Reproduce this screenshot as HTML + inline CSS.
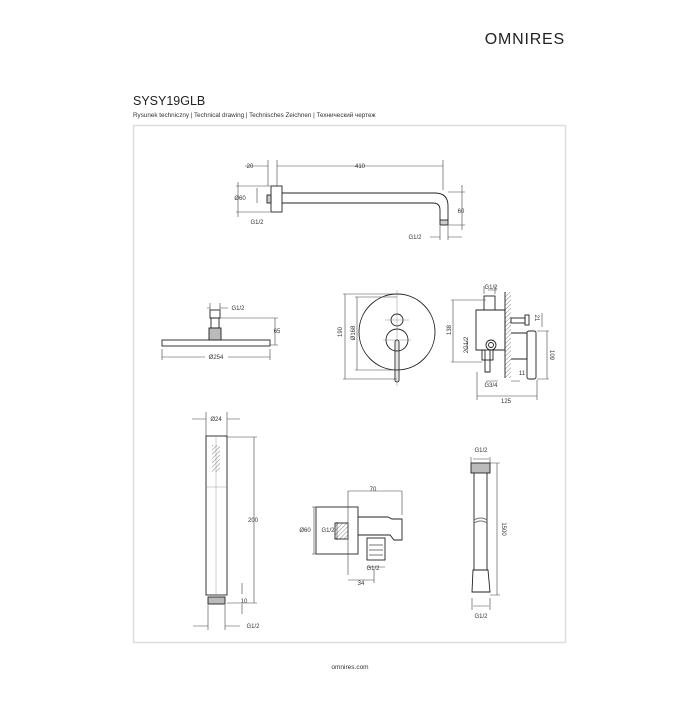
<!DOCTYPE html>
<html><head><meta charset="utf-8"><style>
html,body{margin:0;padding:0;background:#fff;}
body{width:700px;height:700px;position:relative;overflow:hidden;font-family:"Liberation Sans",sans-serif;}
</style></head><body>
<svg width="700" height="700" viewBox="0 0 700 700" xmlns="http://www.w3.org/2000/svg" font-family="Liberation Sans, sans-serif">
<defs>
<pattern id="h" width="3" height="3" patternUnits="userSpaceOnUse" patternTransform="rotate(45)"><line x1="0" y1="0" x2="0" y2="3" stroke="#666" stroke-width="0.8"/></pattern>
</defs>
<text x="565" y="44" font-size="16" text-anchor="end" letter-spacing="0.8" fill="#222">OMNIRES</text>
<text x="133" y="105" font-size="12.5" fill="#222">SYSY19GLB</text>
<text x="133" y="117" font-size="6.3" fill="#333">Rysunek techniczny | Technical drawing | Technisches Zeichnen | Технический чертеж</text>
<rect x="133.5" y="125.5" width="432" height="517" fill="none" stroke="#ddd" stroke-width="1.5"/>
<text x="350" y="669" font-size="6.5" text-anchor="middle" fill="#333">omnires.com</text>

<g stroke="#222" stroke-width="0.9" fill="none">
<!-- top arm -->
<rect x="271" y="186" width="11" height="26"/>
<rect x="267" y="195" width="4" height="8" fill="#ccc"/>
<path d="M282 193 H435 Q448 193 448 206 V220 M282 203 H433 Q440 203 440 210 V220"/>
<rect x="440" y="220" width="8" height="5" fill="#ccc"/>
<path d="M268 160V186 M277 160V186 M443 160V190 M245 166H268 M277 166H443 M238 182V217 M236 186H270 M236 212H270 M257 188V203 M462 185V230 M448 192H465 M448 225H465 M430 237H440 M448 237H462 M440 226V240 M448 226V240" stroke="#444" stroke-width="0.6"/>
<!-- head shower -->
<rect x="162" y="340" width="108" height="6"/>
<rect x="210" y="310" width="10" height="8"/>
<rect x="211" y="318" width="8" height="10"/>
<rect x="209" y="328" width="12" height="12" fill="#bbb"/>
<path d="M207 308H210 M220 308H228 M210 303V312 M220 303V312 M220 318H278 M275 318V345 M270 345H278 M162 349V360 M270 349V360 M162 357H205 M228 357H270" stroke="#444" stroke-width="0.6"/>
<!-- mixer front -->
<circle cx="397" cy="332" r="38"/>
<circle cx="397" cy="320" r="6"/>
<circle cx="397" cy="340" r="11"/>
<rect x="395" y="340" width="4" height="42" rx="2"/>
<path d="M397 290V386 M385 320H409 M383 340H411" stroke="#777" stroke-width="0.4"/>
<path d="M345 294V379 M343 294H397 M343 379H397 M357 297V370 M355 297H397 M355 370H397" stroke="#444" stroke-width="0.6"/>
<!-- mixer side -->
<rect x="505" y="292" width="6" height="86" fill="url(#h)" stroke="none"/>
<path d="M505 292V378"/>
<path d="M476 310 H505 V350 H490 V372 H485 V350 H476 Z"/>
<rect x="484" y="296" width="11" height="14"/>
<rect x="482" y="350" width="11" height="10"/>
<circle cx="491" cy="345" r="5"/>
<circle cx="491" cy="345" r="2.5"/>
<rect x="511" y="318" width="14" height="5"/>
<rect x="525" y="315" width="4" height="10"/>
<path d="M511 333 H527 V359 H511"/>
<rect x="527" y="331" width="9" height="48" rx="2"/>
<path d="M453 300V362 M451 300H486 M451 362H482 M488 290H497 M484 286V294 M495 286V294 M542 313V327 M547 331V379 M537 331H549 M537 379H549 M477 372V400 M537 380V400 M477 396H537 M486 381H498 M511 381H520 M467 340V350" stroke="#444" stroke-width="0.6"/>
<!-- hand shower -->
<rect x="206" y="436" width="21" height="159"/>
<path d="M206 487H227 M216 436V595" stroke="#888" stroke-width="0.4"/>
<rect x="212" y="445" width="8" height="27" fill="url(#h)" stroke="none"/>
<rect x="208" y="597" width="17" height="7" fill="#bbb"/>
<path d="M192 419H206 M227 419H240 M206 412V436 M227 412V436 M227 437H257 M254 437V603 M227 603H257 M242 583V594 M242 604V614 M193 626H208 M225 626H240 M208 605V630 M225 605V630" stroke="#444" stroke-width="0.6"/>
<!-- wall outlet -->
<rect x="316" y="507" width="42" height="47"/>
<rect x="335" y="523" width="13" height="16" fill="url(#h)"/>
<path d="M358 517 H388 L392 519 H402 V540 H394 L390 535 H358"/>
<rect x="367" y="538" width="18" height="22"/>
<path d="M369 545H383 M369 550H383 M369 555H383" stroke="#777"/>
<path d="M348 491V575 M402 491V515 M348 491H402 M314 507V554 M312 507H320 M312 554H320 M337 522V540 M348 580H374 M374 570V583 M367 567H385" stroke="#444" stroke-width="0.6"/>
<!-- hose -->
<rect x="471" y="463" width="19" height="10" fill="#bbb"/>
<path d="M474 473V570 M487 473V570"/>
<path d="M474 520 Q481 516 487 520 M474 523 Q481 519 487 523" stroke="#777"/>
<path d="M473 570 H488 L490 592 H472 Z"/>
<path d="M471 457V465 M490 457V465 M473 459H489 M497 463V595 M490 463H500 M490 595H500 M472 598V610 M490 598V610 M473 606H489" stroke="#444" stroke-width="0.6"/>
</g>
<g font-size="6" fill="#333">
<text x="250" y="168" text-anchor="middle">20</text>
<text x="360" y="168" text-anchor="middle">410</text>
<text x="240" y="200" text-anchor="middle">Ø60</text>
<text x="257" y="224" text-anchor="middle">G1/2</text>
<text x="461" y="213" text-anchor="middle">60</text>
<text x="415" y="239" text-anchor="middle">G1/2</text>
<text x="238" y="310" text-anchor="middle">G1/2</text>
<text x="277" y="333" text-anchor="middle">65</text>
<text x="216" y="359" text-anchor="middle">Ø254</text>
<text transform="translate(342,332) rotate(-90)" text-anchor="middle">190</text>
<text transform="translate(355,333) rotate(-90)" text-anchor="middle">Ø168</text>
<text x="491" y="289" text-anchor="middle">G1/2</text>
<text transform="translate(451,330) rotate(-90)" text-anchor="middle">138</text>
<text transform="translate(535,318) rotate(90)" text-anchor="middle">21</text>
<text transform="translate(550,355) rotate(90)" text-anchor="middle">109</text>
<text transform="translate(468,345) rotate(-90)" text-anchor="middle">2G1/2</text>
<text x="491" y="387" text-anchor="middle">G3/4</text>
<text x="522" y="375" text-anchor="middle">11</text>
<text x="506" y="403" text-anchor="middle">125</text>
<text x="216" y="421" text-anchor="middle">Ø24</text>
<text x="253" y="522" text-anchor="middle">200</text>
<text x="244" y="603" text-anchor="middle">10</text>
<text x="253" y="628" text-anchor="middle">G1/2</text>
<text x="373" y="491" text-anchor="middle">70</text>
<text x="305" y="532" text-anchor="middle">Ø60</text>
<text x="328" y="532" text-anchor="middle">G1/2</text>
<text x="373" y="570" text-anchor="middle">G1/2</text>
<text x="361" y="585" text-anchor="middle">34</text>
<text x="481" y="452" text-anchor="middle">G1/2</text>
<text x="481" y="618" text-anchor="middle">G1/2</text>
<text transform="translate(502,529) rotate(90)" text-anchor="middle">1500</text>
</g>
</svg>
</body></html>
